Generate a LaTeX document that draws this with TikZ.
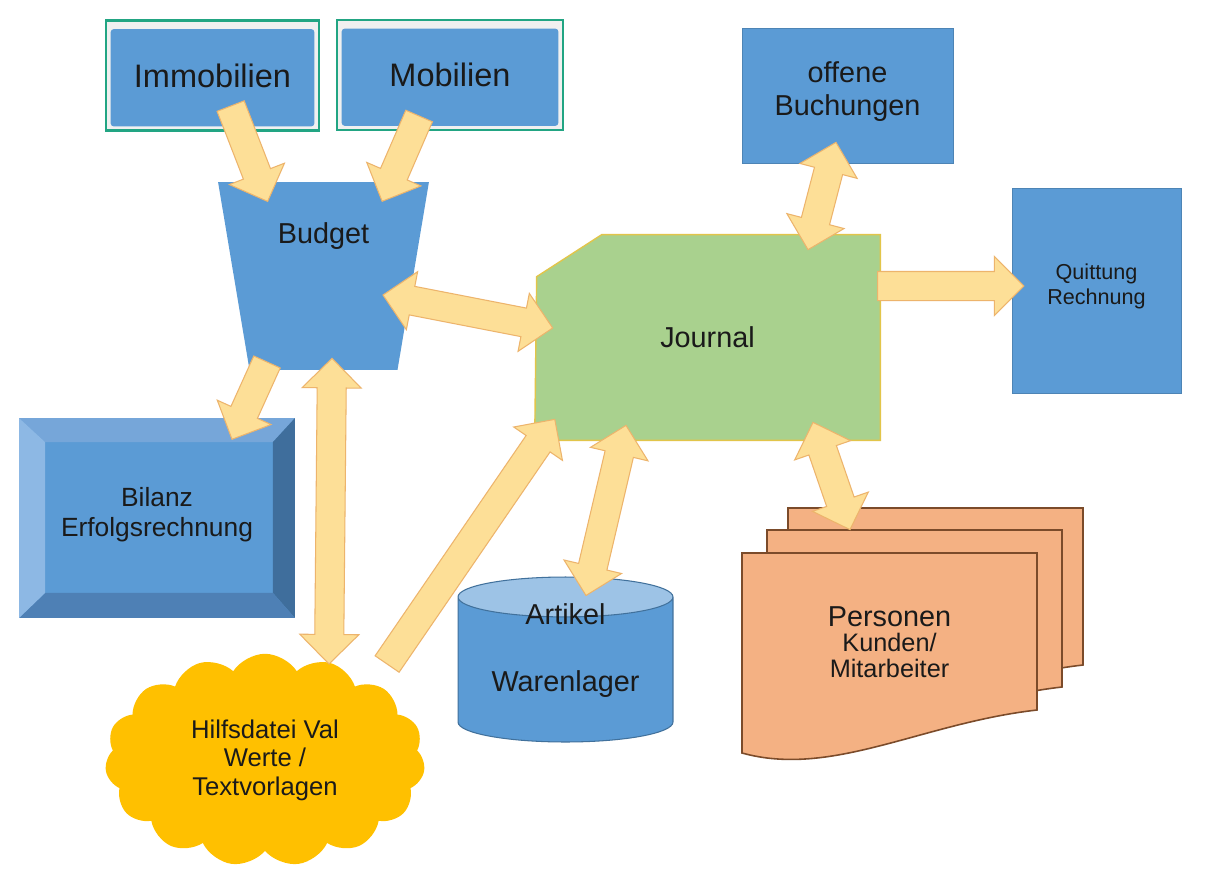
\documentclass[tikz,border=0pt]{standalone}
\usepackage{fontspec}
\setmainfont{Liberation Sans}
\usetikzlibrary{calc,positioning,shapes.geometric,shapes.arrows,shapes.symbols,backgrounds}

\definecolor{boxBlue}{HTML}{5B9BD5}
\definecolor{boxTop}{HTML}{9DC3E6}
\definecolor{boxEdge}{HTML}{41719C}
\definecolor{tealEdge}{HTML}{22A583}
\definecolor{bevelTop}{HTML}{76A6D9}
\definecolor{bevelLeft}{HTML}{8DB8E4}
\definecolor{bevelRight}{HTML}{3F6E9C}
\definecolor{bevelBottom}{HTML}{4E80B5}
\definecolor{journalFill}{HTML}{A9D18E}
\definecolor{journalEdge}{HTML}{E2C54A}
\definecolor{flowFill}{HTML}{FDDF97}
\definecolor{flowEdge}{HTML}{EDB46C}
\definecolor{cloudGold}{HTML}{FFC000}
\definecolor{sheetFill}{HTML}{F4B183}
\definecolor{sheetEdge}{HTML}{7B4B2A}
\definecolor{labelText}{HTML}{1A1A1A}

% fat arrow from #2 to #3, centred on the line and turned along it
\newcommand{\fatlink}[3][double arrow]{%
  \path let \p1=(#2), \p2=(#3) in
    node[flowarrow, #1, rotate={atan2(\y2-\y1,\x2-\x1)},
      minimum height={veclen(\x2-\x1,\y2-\y1)}]
    at ($(\p1)!0.5!(\p2)$) {};}

% one paper sheet with a wavy lower edge
\newcommand{\docsheet}[2]{%
  \filldraw[sheet, shift={(#1,#2)}] (0,0) -- (295,0) -- (295,157)
    .. controls (180,170) and (90,225) .. (0,200) -- cycle;}

\begin{document}
\begin{tikzpicture}[x=0.02cm, y=-0.02cm,
  every node/.style={text=labelText, align=center},
  asset/.style={draw=tealEdge, line width=1.5pt, fill=gray!12,
    minimum height=2.2cm, font=\fontsize{18.5}{22}\selectfont,
    path picture={\fill[boxBlue, rounded corners=2pt]
      ($(path picture bounding box.south west)+(0.09cm,0.08cm)$) rectangle
      ($(path picture bounding box.north east)+(-0.09cm,-0.17cm)$);}},
  panel/.style={fill=boxBlue, draw=boxBlue!85!black, line width=0.4pt},
  funnel/.style={trapezium, trapezium left angle=102, trapezium right angle=102,
    trapezium stretches=true, fill=boxBlue,
    minimum width=4.22cm, minimum height=3.76cm},
  bevel/.style={fill=boxBlue, minimum width=5.52cm, minimum height=4cm,
    font=\fontsize{15}{17}\selectfont,
    path picture={
      \coordinate (bsw) at (path picture bounding box.south west);
      \coordinate (bne) at (path picture bounding box.north east);
      \fill[bevelTop] (bsw|-bne) -- (bne) -- ($(bne)+(-0.44cm,-0.48cm)$)
        -- ($(bsw|-bne)+(0.52cm,-0.48cm)$) -- cycle;
      \fill[bevelRight] (bne) -- (bne|-bsw) -- ($(bne|-bsw)+(-0.44cm,0.5cm)$)
        -- ($(bne)+(-0.44cm,-0.48cm)$) -- cycle;
      \fill[bevelBottom] (bne|-bsw) -- (bsw) -- ($(bsw)+(0.52cm,0.5cm)$)
        -- ($(bne|-bsw)+(-0.44cm,0.5cm)$) -- cycle;
      \fill[bevelLeft] (bsw) -- (bsw|-bne) -- ($(bsw|-bne)+(0.52cm,-0.48cm)$)
        -- ($(bsw)+(0.52cm,0.5cm)$) -- cycle;}},
  journalbox/.style={minimum width=6.9cm, minimum height=4.1cm,
    font=\fontsize{16.4}{19}\selectfont},
  store/.style={cylinder, shape border rotate=90, aspect=0.25,
    cylinder uses custom fill, cylinder body fill=boxBlue, cylinder end fill=boxTop,
    draw=boxEdge, line width=0.6pt, minimum width=4.3cm, minimum height=3.3cm,
    font=\fontsize{16.4}{19}\selectfont},
  note/.style={cloud, cloud puffs=15, cloud puff arc=115, cloud ignores aspect,
    fill=cloudGold, minimum width=6.4cm, minimum height=4.25cm,
    font=\fontsize{14.6}{16.2}\selectfont},
  sheet/.style={fill=sheetFill, draw=sheetEdge, line width=0.9pt},
  flowarrow/.style={fill=flowFill, draw=flowEdge, line width=0.6pt,
    inner sep=0.28cm, minimum width=0pt,
    single arrow head extend=0.3cm, double arrow head extend=0.3cm,
    single arrow tip angle=90, double arrow tip angle=90}
]
  \useasboundingbox (0,0) rectangle (1206,875);

  % inputs
  \node[asset, minimum width=4.26cm] (immobilien) at (212.5,75.5) {Immobilien};
  \node[asset, minimum width=4.52cm] (mobilien) at (450,75) {Mobilien};
  \node[funnel, label={[font=\fontsize{16.4}{19}\selectfont, label distance=-1.48cm]north:Budget}]
    (budget) at (323.5,276) {};
  \node[bevel, text depth=0.23cm] (bilanz) at (157,518) {Bilanz\\Erfolgsrechnung};

  % journal in the middle
  \node[journalbox] (journal) at (707.5,337.5) {Journal};
  \node[panel, minimum width=4.22cm, minimum height=2.7cm, text depth=0.28cm,
    font=\fontsize{16.4}{18.7}\selectfont] (offene) at (847.5,95.5) {offene\\Buchungen};
  \node[panel, minimum width=3.38cm, minimum height=4.1cm, text depth=0.25cm,
    font=\fontsize{12.3}{14.2}\selectfont] (quittung) at (1096.5,290.5) {Quittung\\Rechnung};

  % files below
  \node[store, anchor=shape center, text height=0.86cm,
    label={[font=\fontsize{16.4}{19}\selectfont, label distance=-1.1cm]north:Artikel}]
    (lager) at (565.5,659.5) {Warenlager};
  \node[note] (hilfsdatei) at (265,760) {Hilfsdatei Val\\Werte /\\Textvorlagen};
  \docsheet{788}{508}
  \docsheet{767}{530}
  \docsheet{742}{553}
  \node[minimum width=5.9cm, minimum height=3.56cm, font=\fontsize{14.4}{14.4}\selectfont]
    (personen) at (889.5,642) {{\fontsize{16.4}{15}\selectfont Personen}\\Kunden/\\Mitarbeiter};

  \begin{scope}[on background layer]
    \fill[white] (0,0) rectangle (1206,875);
    \filldraw[fill=journalFill, draw=journalEdge, line width=0.8pt]
      (journal.south west) -- ($(journal.north west)+(2,42)$)
      -- ($(journal.north west)+(67,0)$) -- (journal.north east)
      -- (journal.south east) -- cycle;
  \end{scope}

  % data flows
  \fatlink[single arrow]{$(immobilien.south)+(15.5,-32.5)$}{$(budget.north)+(-58.5,13)$}
  \fatlink[single arrow]{$(mobilien.south)+(-28,-22)$}{$(budget.north)+(61.5,13)$}
  \fatlink{$(budget.center)+(59.5,19)$}{$(journal.west)+(18,-9.5)$}
  \fatlink[single arrow]{$(budget.south)+(-53.5,-15)$}{$(bilanz.north)+(78,15)$}
  \fatlink{$(budget.south)+(8.5,-12)$}{$(hilfsdatei.center)+(64,-96)$}
  \fatlink[single arrow]{$(hilfsdatei.center)+(118,-90)$}{$(journal.south west)+(16,-15)$}
  \fatlink{$(journal.south)+(-81.5,-15)$}{$(lager.shape center)+(20.5,-64)$}
  \fatlink{$(journal.north)+(100.5,15)$}{$(offene.south)+(-11.5,-21)$}
  \fatlink[single arrow]{$(journal.east)+(-10,-51.5)$}{$(quittung.west)+(5,-4.5)$}
  \fatlink{$(journal.south)+(105.5,-18)$}{$(personen.north)+(-39.5,-23)$}
\end{tikzpicture}
\end{document}
